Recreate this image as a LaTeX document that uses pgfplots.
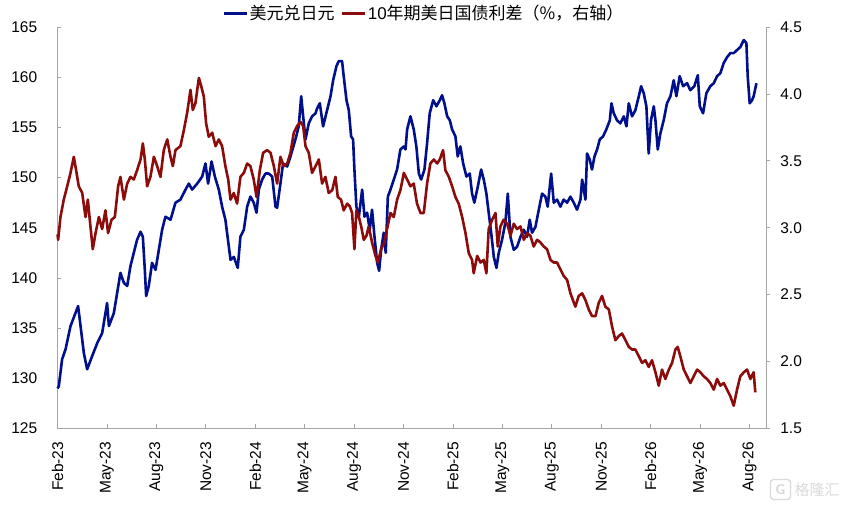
\documentclass[border=0pt]{standalone}
\usepackage{fontspec}
\setmainfont{Liberation Sans}
\newfontfamily\cjk{Noto Sans CJK SC}
\usepackage{pgfplots}
\pgfplotsset{compat=1.18}
\definecolor{usdjpy}{RGB}{0,16,140}
\definecolor{spread}{RGB}{140,12,12}
\definecolor{axgray}{RGB}{165,165,165}

\pgfplotstableread{
m v
0.00 129.0
0.08 129.2
0.28 131.9
0.49 132.9
0.79 135.2
1.09 136.5
1.25 137.2
1.40 135.2
1.60 132.5
1.80 130.9
2.10 132.2
2.41 133.5
2.71 134.5
2.91 136.5
3.01 137.5
3.12 135.2
3.42 136.5
3.62 138.5
3.82 140.5
4.03 139.5
4.23 139.2
4.43 141.2
4.63 142.5
4.83 143.8
5.04 144.6
5.18 144.1
5.30 140.8
5.38 138.2
5.54 139.2
5.74 141.5
5.95 140.8
6.15 142.8
6.35 144.8
6.55 146.1
6.86 145.8
7.16 147.5
7.46 147.8
7.77 148.8
7.97 149.4
8.17 148.8
8.48 149.4
8.78 150.1
8.98 151.4
9.14 149.4
9.35 151.6
9.55 150.1
9.79 148.8
9.99 147.1
10.19 145.8
10.40 143.1
10.50 141.8
10.70 142.1
10.94 141.0
11.10 144.1
11.31 144.8
11.51 147.1
11.71 148.1
11.91 147.5
12.08 146.5
12.22 148.8
12.42 149.8
12.62 150.4
12.82 150.4
13.03 150.1
13.23 147.1
13.33 147.0
13.53 149.4
13.69 151.4
13.94 151.1
14.14 152.1
14.44 153.8
14.64 155.1
14.79 158.1
14.91 156.1
15.05 153.8
15.25 155.4
15.45 156.1
15.66 156.4
15.76 156.9
15.92 157.4
16.12 155.1
16.36 156.7
16.57 158.1
16.73 159.7
16.93 161.1
17.07 161.6
17.27 161.6
17.37 160.1
17.54 157.7
17.68 156.7
17.82 154.1
17.94 153.8
18.02 150.8
18.14 147.1
18.29 146.1
18.49 148.8
18.63 146.1
18.79 146.5
18.95 144.8
19.09 146.8
19.24 144.1
19.40 141.5
19.52 140.7
19.64 142.8
19.80 144.5
19.92 142.5
20.05 148.1
20.21 148.8
20.41 149.8
20.61 150.8
20.81 152.8
21.02 153.1
21.12 152.8
21.22 154.8
21.42 156.1
21.62 154.8
21.78 153.1
21.93 150.4
22.07 149.8
22.27 150.8
22.43 153.4
22.59 156.4
22.80 157.7
23.00 157.1
23.20 157.7
23.34 158.2
23.48 157.4
23.65 156.1
23.81 155.7
23.95 154.8
24.15 154.1
24.29 152.1
24.45 153.1
24.62 151.4
24.82 150.1
25.02 150.4
25.16 148.4
25.30 147.5
25.51 149.1
25.71 150.8
25.87 149.8
26.03 148.4
26.17 146.5
26.32 144.5
26.48 142.1
26.64 141.0
26.78 142.5
26.98 143.8
27.18 145.5
27.33 148.4
27.49 144.1
27.69 142.8
27.89 143.1
28.10 144.1
28.30 144.8
28.50 144.1
28.66 145.8
28.80 144.5
29.01 145.1
29.21 146.8
29.41 148.4
29.61 148.1
29.75 147.1
29.96 150.4
30.12 147.5
30.32 147.8
30.52 147.1
30.72 147.8
30.93 147.5
31.13 148.1
31.33 147.5
31.53 146.8
31.74 147.8
31.84 149.8
32.04 147.8
32.14 152.4
32.30 151.8
32.44 150.8
32.59 152.1
32.75 152.8
32.91 153.8
33.11 154.1
33.31 154.8
33.52 155.7
33.62 157.4
33.76 156.4
33.96 155.7
34.16 155.4
34.37 156.1
34.53 155.1
34.67 157.4
34.87 156.1
35.07 156.7
35.28 158.1
35.42 159.1
35.58 158.4
35.74 157.1
35.88 152.4
36.02 155.7
36.19 157.1
36.29 155.7
36.43 152.8
36.59 154.4
36.79 155.7
36.99 157.4
37.20 158.1
37.40 159.7
37.56 158.1
37.76 160.1
37.97 159.1
38.21 159.4
38.41 158.7
38.65 159.1
38.86 160.2
38.98 157.1
39.18 156.4
39.38 158.4
39.62 159.1
39.83 159.4
40.03 160.1
40.23 160.4
40.43 161.4
40.64 162.0
40.84 162.4
41.04 162.4
41.24 162.7
41.44 163.0
41.65 163.7
41.81 163.4
41.89 160.1
42.01 157.4
42.15 157.7
42.25 158.1
42.42 159.4
}\usdjpydata

\pgfplotstableread{
m v
0.00 2.95
0.04 2.91
0.18 3.08
0.38 3.21
0.59 3.31
0.79 3.41
0.99 3.53
1.13 3.43
1.29 3.31
1.50 3.26
1.70 3.08
1.84 3.21
2.00 3.01
2.14 2.84
2.31 2.96
2.51 3.08
2.71 2.99
2.91 3.13
3.07 2.96
3.28 3.06
3.48 3.08
3.68 3.31
3.82 3.38
4.03 3.21
4.23 3.33
4.43 3.38
4.63 3.36
4.83 3.43
5.04 3.51
5.18 3.63
5.30 3.51
5.44 3.31
5.64 3.38
5.85 3.53
6.05 3.46
6.25 3.38
6.45 3.58
6.66 3.66
6.86 3.53
7.00 3.46
7.16 3.58
7.46 3.61
7.67 3.73
7.87 3.86
8.07 4.03
8.21 3.88
8.37 3.93
8.58 4.12
8.74 4.05
8.88 3.98
9.02 3.78
9.18 3.68
9.39 3.71
9.59 3.61
9.79 3.66
9.99 3.61
10.19 3.46
10.36 3.36
10.50 3.21
10.70 3.26
10.90 3.18
11.10 3.38
11.31 3.41
11.51 3.48
11.71 3.46
11.91 3.36
12.08 3.23
12.28 3.43
12.48 3.56
12.72 3.58
12.93 3.56
13.13 3.46
13.33 3.33
13.53 3.53
13.73 3.46
13.94 3.48
14.14 3.56
14.34 3.71
14.54 3.76
14.75 3.79
14.91 3.76
15.05 3.61
15.25 3.56
15.45 3.41
15.66 3.46
15.86 3.51
16.06 3.33
16.26 3.38
16.46 3.26
16.67 3.28
16.87 3.38
17.01 3.23
17.21 3.21
17.37 3.13
17.58 3.18
17.74 3.16
17.88 3.11
18.02 2.84
18.14 3.13
18.29 3.08
18.43 3.01
18.59 2.91
18.75 2.94
18.89 3.01
19.09 2.89
19.30 2.79
19.44 2.74
19.64 2.84
19.84 2.89
20.00 2.99
20.21 3.11
20.41 3.08
20.61 3.21
20.81 3.28
21.02 3.41
21.22 3.36
21.42 3.31
21.62 3.33
21.82 3.18
22.03 3.11
22.23 3.11
22.43 3.33
22.63 3.48
22.84 3.51
23.04 3.48
23.20 3.51
23.40 3.58
23.54 3.43
23.75 3.38
23.95 3.31
24.15 3.23
24.35 3.18
24.56 3.08
24.76 2.96
24.96 2.81
25.16 2.76
25.26 2.66
25.47 2.79
25.67 2.74
25.87 2.76
26.03 2.66
26.17 2.99
26.38 3.06
26.58 3.11
26.72 2.86
26.88 3.01
27.08 3.06
27.29 3.03
27.49 2.94
27.69 3.03
27.89 2.99
28.10 3.01
28.30 2.91
28.50 2.96
28.70 2.94
28.90 2.86
29.11 2.91
29.31 2.89
29.51 2.86
29.71 2.84
29.92 2.76
30.12 2.74
30.32 2.74
30.52 2.69
30.72 2.64
30.93 2.61
31.13 2.51
31.43 2.41
31.63 2.49
31.84 2.51
32.04 2.46
32.24 2.39
32.44 2.34
32.65 2.34
32.85 2.44
33.05 2.49
33.25 2.41
33.46 2.39
33.66 2.26
33.86 2.16
34.06 2.19
34.26 2.21
34.47 2.16
34.67 2.11
34.87 2.09
35.07 2.09
35.28 2.04
35.48 1.99
35.68 2.01
35.88 1.96
36.08 2.01
36.29 1.92
36.49 1.82
36.69 1.94
36.89 1.87
37.10 1.94
37.30 1.99
37.50 2.09
37.64 2.11
37.80 2.04
38.01 1.94
38.21 1.89
38.41 1.84
38.61 1.89
38.82 1.94
39.02 1.92
39.22 1.89
39.42 1.87
39.62 1.84
39.83 1.79
40.03 1.87
40.23 1.82
40.43 1.84
40.64 1.79
40.84 1.74
41.04 1.67
41.24 1.79
41.44 1.89
41.65 1.92
41.85 1.94
42.05 1.87
42.25 1.92
42.35 1.77
}\spreaddata

\begin{document}
\fontsize{15.5}{18}\selectfont
\begin{tikzpicture}
\useasboundingbox (-57.5pt,-76.5pt) rectangle (785.5pt,428.5pt);
\pgfplotsset{
  common/.style={
    at={(0pt,0pt)}, anchor=south west, scale only axis,
    width=708.5pt, height=401.5pt,
    xmin=0, xmax=43,
    axis line style={axgray, line width=0.8pt},
    tick style={axgray, line width=0.8pt},
    major tick length=4pt,
    tick label style={font=\fontsize{15.5}{18}\selectfont, text=black},
    /pgf/number format/assume math mode=true,
    clip=false,
  }
}
\begin{axis}[common,
  ymin=125, ymax=165,
  axis x line*=bottom, axis y line*=left,
  xtick={0,3,...,42},
  xticklabels={Feb-23,May-23,Aug-23,Nov-23,Feb-24,May-24,Aug-24,Nov-24,Feb-25,May-25,Aug-25,Nov-25,Feb-26,May-26,Aug-26},
  ytick={125,130,135,140,145,150,155,160,165},
  tick align=inside,
  xticklabel style={rotate=90, anchor=east},
  xticklabel shift=8pt,
  yticklabel shift=15pt,
]
\addplot[usdjpy, line width=2.6pt, line join=round] table[x=m, y=v] {\usdjpydata};
\end{axis}
\begin{axis}[common,
  ymin=1.5, ymax=4.5,
  axis x line=none, axis y line*=right,
  ytick={1.5,2,2.5,3,3.5,4,4.5},
  yticklabel style={/pgf/number format/.cd, fixed, fixed zerofill, precision=1},
  tick align=outside,
  yticklabel shift=5pt,
  legend style={at={(0.2322,1.0336)}, anchor=west, draw=none, fill=none,
    font=\fontsize{17}{20}\selectfont, inner sep=0pt,
    nodes={inner xsep=1.5pt},
    /tikz/every even column/.append style={column sep=4.5pt}},
  legend columns=2,
  legend image code/.code={\draw[#1] (0pt,0pt) -- (23pt,0pt);},
]
\addlegendimage{usdjpy, line width=3pt}
\addlegendentry{{\cjk 美元兑日元}}
\addplot[spread, line width=2.6pt, line join=round] table[x=m, y=v] {\spreaddata};
\addlegendentry{10{\cjk 年期美日国债利差（\%，右轴）}}
\end{axis}
\draw[gray!30, line width=1.4pt, rounded corners=3pt] (713pt,-51pt) rectangle (733pt,-71pt);
\node[text=gray!30, font=\sffamily\bfseries\fontsize{14}{14}\selectfont] at (723pt,-61pt) {G};
\node[text=gray!30, anchor=west, inner sep=0pt, font=\cjk\fontsize{15}{15}\selectfont] at (737pt,-61pt) {格隆汇};
\end{tikzpicture}
\end{document}
